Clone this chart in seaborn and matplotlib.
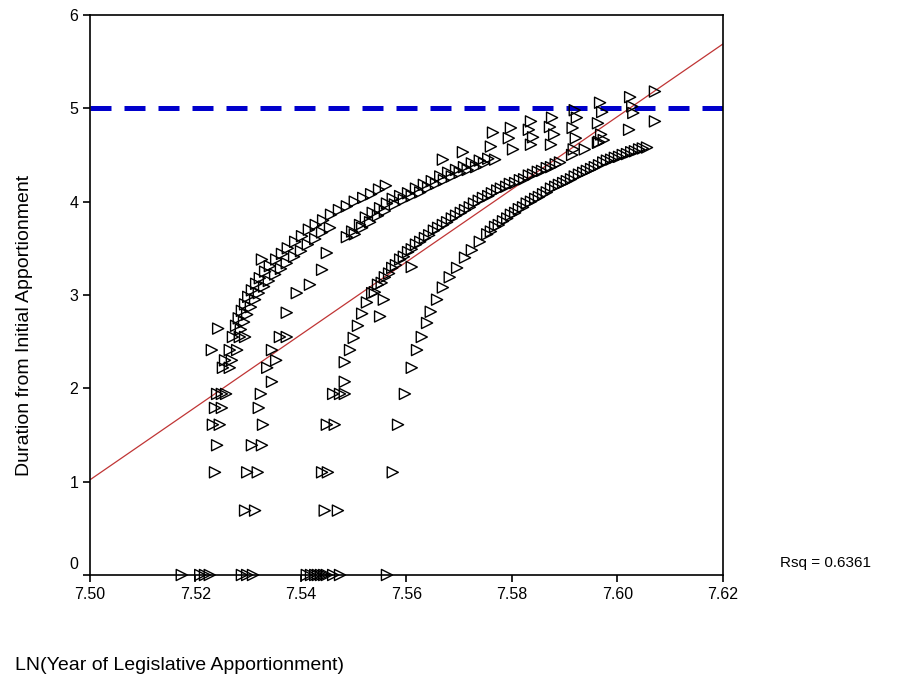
import numpy as np
import pandas as pd
import matplotlib
matplotlib.use("Agg")
import matplotlib.pyplot as plt
import matplotlib.transforms as mtransforms
import seaborn as sns

# --- data (x = LN(year), y = LN(duration)) ---

# first cohort, left column near 7.52
col1_x = [7.5174, 7.5209, 7.5218, 7.5227, 7.5237, 7.5241, 7.5233, 7.5246,
          7.5237, 7.5250, 7.5241, 7.5250, 7.5258, 7.5252, 7.5265, 7.5256,
          7.5269, 7.5231, 7.5265, 7.5279, 7.5271, 7.5284, 7.5294, 7.5243]
col1_y = [0, 0, 0, 0, 1.10, 1.39, 1.61, 1.61,
          1.79, 1.79, 1.94, 1.94, 1.94, 2.22, 2.22, 2.30,
          2.30, 2.41, 2.41, 2.41, 2.55, 2.55, 2.55, 2.64]

# upper-left arc
arc_a_x = [7.5277, 7.5282, 7.5288, 7.5294, 7.5300, 7.5307, 7.5315, 7.5322,
           7.5332, 7.5341, 7.5353, 7.5364, 7.5375, 7.5389, 7.5402, 7.5415,
           7.5428, 7.5442, 7.5457, 7.5472, 7.5487, 7.5502, 7.5518, 7.5533,
           7.5548, 7.5561,
           7.5286, 7.5292, 7.5298, 7.5305, 7.5313, 7.5320, 7.5330, 7.5339,
           7.5351, 7.5362, 7.5373, 7.5387, 7.5400, 7.5413, 7.5427, 7.5440,
           7.5455, 7.5326, 7.5669, 7.5707]
arc_a_y = [2.67, 2.75, 2.83, 2.90, 2.98, 3.05, 3.12, 3.18,
           3.25, 3.31, 3.38, 3.44, 3.50, 3.57, 3.63, 3.70,
           3.75, 3.80, 3.86, 3.91, 3.95, 4.00, 4.04, 4.08,
           4.13, 4.17,
           2.63, 2.71, 2.79, 2.87, 2.95, 3.02, 3.09, 3.15,
           3.22, 3.28, 3.34, 3.41, 3.47, 3.54, 3.60, 3.67,
           3.72, 3.38, 4.45, 4.53]

# second cohort column near 7.53
col2_x = [7.5288, 7.5298, 7.5309, 7.5294, 7.5313, 7.5298, 7.5318, 7.5307,
          7.5326, 7.5328, 7.5320, 7.5324, 7.5345, 7.5336, 7.5353, 7.5345,
          7.5360, 7.5373]
col2_y = [0, 0, 0, 0.69, 0.69, 1.10, 1.10, 1.39,
          1.39, 1.61, 1.79, 1.94, 2.07, 2.22, 2.30, 2.41,
          2.55, 2.55]

# second arc
arc_b_x = [7.5373, 7.5392, 7.5417, 7.5440, 7.5449, 7.5487, 7.5497, 7.5512,
           7.5523, 7.5536, 7.5550, 7.5563, 7.5574, 7.5588, 7.5603, 7.5618,
           7.5633, 7.5648, 7.5664, 7.5679, 7.5694, 7.5709, 7.5724, 7.5739,
           7.5755,
           7.5502, 7.5516, 7.5531, 7.5546, 7.5559, 7.5578, 7.5595, 7.5610,
           7.5626, 7.5641, 7.5656, 7.5671, 7.5686, 7.5701, 7.5716, 7.5732,
           7.5747]
arc_b_y = [2.81, 3.02, 3.11, 3.27, 3.45, 3.62, 3.68, 3.75,
           3.83, 3.88, 3.93, 3.98, 4.03, 4.06, 4.09, 4.14,
           4.18, 4.22, 4.27, 4.31, 4.34, 4.37, 4.41, 4.44,
           4.46,
           3.65, 3.72, 3.78, 3.85, 3.90, 3.97, 4.02, 4.06,
           4.10, 4.15, 4.19, 4.23, 4.27, 4.31, 4.34, 4.37,
           4.41]

# third cohort column near 7.545
col3_x = [7.5411, 7.5419, 7.5427, 7.5432, 7.5438, 7.5444, 7.5449, 7.5461,
          7.5474, 7.5445, 7.5470, 7.5440, 7.5451, 7.5449, 7.5464, 7.5461,
          7.5474, 7.5483, 7.5483]
col3_y = [0, 0, 0, 0, 0, 0, 0, 0,
          0, 0.69, 0.69, 1.10, 1.10, 1.61, 1.61, 1.94,
          1.94, 1.94, 2.07]

# third arc (along the fit line)
arc_c_x = [7.5483, 7.5493, 7.5500, 7.5508, 7.5516, 7.5525, 7.5535, 7.5546,
           7.5559, 7.5573, 7.5588, 7.5603, 7.5618, 7.5635, 7.5652, 7.5669,
           7.5686, 7.5703, 7.5720, 7.5737, 7.5755, 7.5772, 7.5789, 7.5806,
           7.5823, 7.5840, 7.5857, 7.5874, 7.5891, 7.5914, 7.5938, 7.5963,
           7.5974,
           7.5540, 7.5553, 7.5567, 7.5580, 7.5595, 7.5610, 7.5626, 7.5643,
           7.5660, 7.5677, 7.5694, 7.5711, 7.5728, 7.5745, 7.5762, 7.5779,
           7.5796, 7.5815, 7.5832, 7.5849, 7.5866, 7.5883,
           7.5557, 7.5550, 7.5610]
arc_c_y = [2.28, 2.41, 2.54, 2.67, 2.80, 2.92, 3.02, 3.11,
           3.19, 3.29, 3.38, 3.46, 3.54, 3.61, 3.69, 3.75,
           3.82, 3.88, 3.94, 4.01, 4.06, 4.12, 4.16, 4.20,
           4.24, 4.29, 4.33, 4.37, 4.42, 4.50, 4.56, 4.63,
           4.66,
           3.03, 3.13, 3.23, 3.32, 3.41, 3.49, 3.57, 3.64,
           3.72, 3.78, 3.85, 3.91, 3.98, 4.04, 4.09, 4.14,
           4.19, 4.23, 4.28, 4.32, 4.36, 4.40,
           2.95, 2.77, 3.30]

# fourth cohort column near 7.557
col4_x = [7.5563, 7.5574, 7.5584, 7.5597, 7.5610, 7.5620]
col4_y = [0, 1.10, 1.61, 1.94, 2.22, 2.41]

# lowest arc
arc_d_x = [7.5629, 7.5639, 7.5646, 7.5658, 7.5669, 7.5682, 7.5696, 7.5711,
           7.5724, 7.5739, 7.5753, 7.5768, 7.5783, 7.5798, 7.5813, 7.5828,
           7.5844, 7.5859, 7.5874, 7.5889, 7.5904, 7.5919, 7.5935, 7.5950,
           7.5965, 7.5980, 7.5995, 7.6010, 7.6026, 7.6041, 7.6056,
           7.5760, 7.5775, 7.5791, 7.5806, 7.5821, 7.5836, 7.5851, 7.5866,
           7.5882, 7.5897, 7.5912, 7.5927, 7.5942, 7.5957, 7.5973, 7.5988,
           7.6003, 7.6018, 7.6033, 7.6048]
arc_d_y = [2.55, 2.70, 2.82, 2.95, 3.08, 3.19, 3.29, 3.40,
           3.48, 3.57, 3.65, 3.73, 3.79, 3.86, 3.92, 3.98,
           4.03, 4.08, 4.14, 4.18, 4.22, 4.27, 4.31, 4.35,
           4.39, 4.44, 4.47, 4.50, 4.53, 4.56, 4.58,
           3.68, 3.75, 3.82, 3.88, 3.94, 4.00, 4.05, 4.10,
           4.16, 4.20, 4.24, 4.29, 4.33, 4.37, 4.42, 4.45,
           4.48, 4.51, 4.54, 4.57]

# stacked points in the upper right
stack_x = [7.5764, 7.5760, 7.5768, 7.5798, 7.5794, 7.5802,
           7.5836, 7.5832, 7.5840, 7.5836, 7.5876, 7.5872, 7.5880, 7.5874,
           7.5919, 7.5923, 7.5915, 7.5921, 7.5917,
           7.5967, 7.5971, 7.5963, 7.5969, 7.5965,
           7.6024, 7.6028, 7.6030, 7.6022, 7.6071, 7.6071]
stack_y = [4.74, 4.59, 4.45, 4.79, 4.68, 4.56,
           4.86, 4.77, 4.69, 4.61, 4.90, 4.80, 4.72, 4.61,
           4.98, 4.90, 4.79, 4.68, 4.56,
           5.06, 4.96, 4.84, 4.72, 4.64,
           5.12, 5.02, 4.95, 4.77, 5.18, 4.86]

# fit line and reference level
fit_x = [7.50, 7.62]
fit_y = [1.02, 5.69]
ref_x = [7.50, 7.62]
ref_y = [5.0, 5.0]

x_ticks = [7.50, 7.52, 7.54, 7.56, 7.58, 7.60, 7.62]
y_ticks = [0, 1, 2, 3, 4, 5, 6]
rsq_text = "Rsq = 0.6361"

df = pd.DataFrame({
    "x": col1_x + arc_a_x + col2_x + arc_b_x + col3_x + arc_c_x + col4_x + arc_d_x + stack_x,
    "y": col1_y + arc_a_y + col2_y + arc_b_y + col3_y + arc_c_y + col4_y + arc_d_y + stack_y,
})

sns.set_style("ticks")
plt.rcParams["font.family"] = ["Liberation Sans", "DejaVu Sans"]
plt.rcParams["text.color"] = "black"
plt.rcParams["axes.labelcolor"] = "black"

fig = plt.figure(figsize=(9.11, 6.90), dpi=100)
ax = fig.add_axes([90 / 911, 1 - 575 / 690, 633 / 911, 560 / 690])

sns.lineplot(x=ref_x, y=ref_y, ax=ax, color="#0000cc", linewidth=3.6,
             zorder=1).lines[-1].set_dashes((4.2, 2.6))
sns.lineplot(x=fit_x, y=fit_y, ax=ax, color="#c03535", linewidth=0.9, zorder=2)
sns.scatterplot(data=df, x="x", y="y", ax=ax, marker=">", s=64,
                facecolor="none", edgecolor="black", linewidth=1.0,
                clip_on=False, zorder=3)

ax.set_xlim(7.50, 7.62)
ax.set_ylim(0, 6)
ax.set_xticks(x_ticks)
ax.set_xticklabels([f"{t:.2f}" for t in x_ticks])
ax.set_yticks(y_ticks)
ax.tick_params(axis="both", direction="out", length=5, width=1.2,
               labelsize=11.5, colors="black")
for sp in ax.spines.values():
    sp.set_linewidth(1.2)
    sp.set_color("black")
ax.set_xlabel("")
ax.set_ylabel("")

# the "0" label sits a little above the axis in the original
zero_lab = ax.get_yticklabels()[0]
zero_lab.set_transform(zero_lab.get_transform() +
                       mtransforms.ScaledTranslation(0, 0.12, fig.dpi_scale_trans))

fig.text(25 / 911, 1 - 325 / 690, "Duration from Initial Apportionment",
         rotation=90, ha="center", va="center", fontsize=14)
fig.text(15 / 911, 1 - 665 / 690, "LN(Year of Legislative Apportionment)",
         ha="left", va="center", fontsize=14)
fig.text(780 / 911, 1 - 563 / 690, rsq_text, ha="left", va="center", fontsize=11)

fig.savefig("out.png", dpi=100)
plt.close(fig)
